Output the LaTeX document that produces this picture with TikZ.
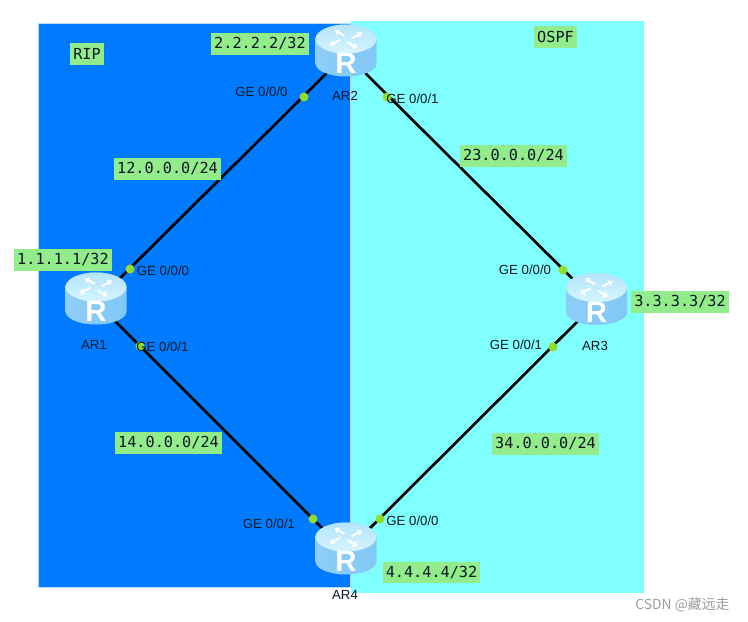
\documentclass[tikz,border=0pt]{standalone}
\usepackage{fontspec}
\setmainfont{Liberation Sans}
\newfontfamily\labelfont{DejaVu Sans Mono}
\newfontfamily\markfont{Noto Sans CJK SC}
\usetikzlibrary{arrows.meta,positioning}
\definecolor{netRip}   {HTML}{007BFF}
\definecolor{netOspf}  {HTML}{80FFFF}
\definecolor{netEdge}  {HTML}{B5DCFF}
\definecolor{netTag}   {HTML}{93EC8B}
\definecolor{netDot}   {HTML}{93DB30}
\definecolor{netInk}   {HTML}{0B1824}
\definecolor{netMark}  {HTML}{9C9C9C}
\definecolor{netSideA} {HTML}{8ECDF8}
\definecolor{netSideB} {HTML}{CFF4FF}
\definecolor{netSideC} {HTML}{82C8F5}
\definecolor{netTopA}  {HTML}{D6F5FF}
\definecolor{netTopB}  {HTML}{B4E4FB}
\tikzset{
  tag/.style={fill=netTag,inner xsep=2.2pt,inner ysep=0pt,minimum height=16.4pt,
    text=netInk,font=\labelfont\fontsize{11.4}{13}\selectfont},
  port/.style={text=netInk,inner sep=0pt,font=\fontsize{9.9}{12}\selectfont},
  portdot/.style={circle,fill=netDot,inner sep=0pt,minimum size=6.8pt},
  link/.style={draw=black,line width=2pt},
  routerbox/.style={inner sep=0pt,minimum size=0pt},
  router/.pic={
    \path[left color=netSideA,middle color=netSideB,right color=netSideC]
      (-30.5,15) -- (-30.5,-9.5) arc[start angle=180,end angle=360,x radius=30.5,y radius=13]
      -- (30.5,15) arc[start angle=0,end angle=180,x radius=30.5,y radius=14.5] -- cycle;
    \path[top color=netTopB,bottom color=netTopA]
      (0,15) ellipse[x radius=30.5,y radius=14.5];
    \foreach \a/\b in {15/35,105/125,195/215,285/305}{
      \draw[white,line width=1.5pt,-{Triangle[width=4.6pt,length=3.4pt]},shift={(0,15)},yscale=.55]
        (\a:6) -- (\b:20);
    }
    \node[white,inner sep=0pt,font=\bfseries\fontsize{22}{22}\selectfont] at (0,-9.5) {R};
  }
}
\begin{document}
\begin{tikzpicture}[x=0.75pt,y=0.75pt]
  \useasboundingbox (0,0) rectangle (748,-621);
  \fill[netRip,draw=netEdge,line width=.6pt] (38,-23.5) rectangle (351,-587.5);
  \fill[netOspf] (351,-20.5) rectangle (644,-593);
  \draw[netEdge,line width=.8pt] (351,-23.5) -- (351,-587.5);

  \node[routerbox] (ar1) at (96,-302) {};
  \node[routerbox] (ar2) at (346,-54) {};
  \node[routerbox] (ar3) at (596.5,-302.5) {};
  \node[routerbox] (ar4) at (346,-552) {};

  \draw[link] (ar1) -- (ar2);
  \draw[link] (ar2) -- (ar3);
  \draw[link] (ar3) -- (ar4);
  \draw[link] (ar4) -- (ar1);

  \node[portdot] (dot12) at (130,-269) {};
  \node[portdot] (dot14) at (140,-346) {};
  \node[portdot] (dot21) at (304,-97) {};
  \node[portdot] (dot23) at (387,-97) {};
  \node[portdot] (dot32) at (563,-270) {};
  \node[portdot] (dot34) at (553,-347) {};
  \node[portdot] (dot41) at (313,-519) {};
  \node[portdot] (dot43) at (380,-519) {};

  \node[tag] (ripTag) at (87,-54) {RIP};
  \node[tag] (ospfTag) at (555.5,-37) {OSPF};
  \node[tag] (ar1Tag) at (63,-260) {1.1.1.1/32};
  \node[tag] (ar2Tag) at (260,-44) {2.2.2.2/32};
  \node[tag] (ar3Tag) at (680,-302) {3.3.3.3/32};
  \node[tag] (ar4Tag) at (431.5,-572.5) {4.4.4.4/32};
  \node[tag] (net12) at (167.5,-169) {12.0.0.0/24};
  \node[tag] (net14) at (168.5,-443) {14.0.0.0/24};
  \node[tag] (net23) at (513.5,-156) {23.0.0.0/24};
  \node[tag] (net34) at (545.5,-444) {34.0.0.0/24};

  \pic at (ar1) {router};
  \pic at (ar2) {router};
  \pic at (ar3) {router};
  \pic at (ar4) {router};

  \node[port] (ar1Name) at (94,-345) {AR1};
  \node[port] (ar2Name) at (345,-96) {AR2};
  \node[port] (ar3Name) at (595,-346) {AR3};
  \node[port] (ar4Name) at (345,-595) {AR4};

  \node[port] (ge12) at (163,-271) {GE 0/0/0};
  \node[port] (ge14) at (162.5,-347) {GE 0/0/1};
  \node[port] (ge21) at (261.5,-92) {GE 0/0/0};
  \node[port] (ge23) at (412.5,-99) {GE 0/0/1};
  \node[port] (ge32) at (525,-270) {GE 0/0/0};
  \node[port] (ge34) at (516,-345) {GE 0/0/1};
  \node[port] (ge41) at (269,-524) {GE 0/0/1};
  \node[port] (ge43) at (412.5,-521) {GE 0/0/0};

  \node[text=netMark,inner sep=0pt,font=\markfont\fontsize{10.4}{12}\selectfont] (csdnMark) at (682.5,-605) {CSDN @藏远走};
\end{tikzpicture}
\end{document}
